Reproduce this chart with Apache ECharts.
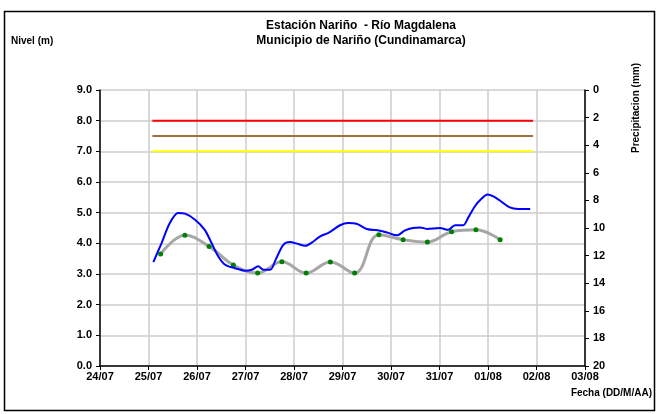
<!DOCTYPE html>
<html>
<head>
<meta charset="utf-8">
<script src="https://cdn.jsdelivr.net/npm/echarts@6/dist/echarts.min.js"></script>
<style>html,body{margin:0;padding:0;background:#fff}#c{width:658px;height:414px}</style>
</head>
<body>
<div id="c"></div>
<script>
// X axis: days since 24/07 (0 = 24/07 00:00)
const dateLabels = ['24/07','25/07','26/07','27/07','28/07','29/07','30/07','31/07','01/08','02/08','03/08'];
const levelTicks = [0,1,2,3,4,5,6,7,8,9];
const precipTicks = [0,2,4,6,8,10,12,14,16,18,20];

// Observed level (blue line)
const blueDays = [1.10,1.27,1.44,1.61,1.75,1.96,2.16,2.30,2.44,2.58,2.78,2.99,3.13,3.26,3.37,3.51,3.62,3.78,3.92,4.06,4.23,4.40,4.54,4.71,4.95,5.12,5.29,5.50,5.77,5.94,6.12,6.29,6.45,6.60,6.74,7.01,7.18,7.32,7.49,7.59,7.73,7.87,7.99,8.11,8.25,8.45,8.62,8.87];
const blueLevels = [3.39,4.01,4.66,4.99,4.97,4.77,4.44,4.01,3.57,3.30,3.19,3.11,3.14,3.25,3.14,3.14,3.46,3.95,4.04,3.99,3.92,4.06,4.23,4.34,4.59,4.66,4.64,4.47,4.41,4.34,4.26,4.42,4.50,4.52,4.47,4.50,4.44,4.59,4.59,4.83,5.21,5.46,5.59,5.53,5.39,5.17,5.12,5.12];

// Reading points (gray line with green markers)
const grayDays = [1.25,1.75,2.25,2.75,3.25,3.75,4.25,4.75,5.25,5.75,6.25,6.75,7.25,7.75,8.25];
const grayLevels = [3.65,4.26,3.90,3.29,3.03,3.40,3.03,3.39,3.03,4.28,4.12,4.04,4.38,4.44,4.12];

// Alert thresholds
const thresholdLevels = [8.0, 7.5, 7.0];
const thresholdNames = ['Alerta roja','Alerta naranja','Alerta amarilla'];
const thresholdStart = 1.08;
const thresholdEnd = 8.93;
const thresholdColors = ['#ff0000','#a5703f','#ffff00'];

// Precipitation (no bars shown)
const precipDays = [];
const precipValues = [];

const font = 'Liberation Sans, Arial, sans-serif';
const chart = echarts.init(document.getElementById('c'));

const series = [];
thresholdLevels.forEach((v,i)=>{
  series.push({
    name: thresholdNames[i], type:'line', xAxisIndex:0, yAxisIndex:0,
    data:[[thresholdStart,v],[thresholdEnd,v]], symbol:'none',
    lineStyle:{color:thresholdColors[i], width:2}, silent:true, z:3
  });
});
series.push({
  name:'Lectura', type:'line', yAxisIndex:0,
  data: grayDays.map((d,i)=>[d,grayLevels[i]]),
  smooth:0.4, symbol:'circle', symbolSize:5,
  itemStyle:{color:'#008000', borderWidth:0},
  lineStyle:{color:'#a6a6a6', width:3}, z:4
});
series.push({
  name:'Nivel', type:'line', yAxisIndex:0,
  data: blueDays.map((d,i)=>[d,blueLevels[i]]),
  smooth:0.3, symbol:'none',
  lineStyle:{color:'#0000ff', width:2}, z:5
});
series.push({
  name:'Precipitacion', type:'bar', yAxisIndex:1,
  data: precipDays.map((d,i)=>[d,precipValues[i]]),
  itemStyle:{color:'#00a0ff'}
});

chart.setOption({
  animation:false,
  backgroundColor:'#fff',
  textStyle:{fontFamily:font},
  grid:{left:100, right:73, top:90, bottom:48, containLabel:false},
  xAxis:{
    type:'value', min:0, max:10, interval:1,
    axisLine:{lineStyle:{color:'#000', width:1.5}},
    axisTick:{show:true, length:4, lineStyle:{color:'#000'}},
    axisLabel:{color:'#000', fontWeight:'bold', fontSize:11, fontFamily:font, margin:5,
      formatter:v=>dateLabels[Math.round(v)] || ''},
    splitLine:{show:true, lineStyle:{color:'#cccccc', width:1.5}}
  },
  yAxis:[
    {
      type:'value', min:0, max:9, interval:1, position:'left',
      axisLine:{show:true, lineStyle:{color:'#000', width:1.5}},
      axisTick:{show:true, length:4, lineStyle:{color:'#000'}},
      axisLabel:{color:'#000', fontWeight:'bold', fontSize:11, fontFamily:font, margin:8,
        formatter:v=>levelTicks.includes(v) ? v.toFixed(1) : ''},
      splitLine:{show:true, lineStyle:{color:'#cccccc', width:1.5}}
    },
    {
      type:'value', min:0, max:20, interval:2, inverse:true, position:'right',
      axisLine:{show:true, lineStyle:{color:'#000', width:1.5}},
      axisTick:{show:true, length:4, lineStyle:{color:'#000'}},
      axisLabel:{color:'#000', fontWeight:'bold', fontSize:11, fontFamily:font, margin:8,
        formatter:v=>precipTicks.includes(v) ? String(v) : ''},
      splitLine:{show:false}
    }
  ],
  series: series,
  graphic:[
    {type:'rect', shape:{x:4.5, y:11.5, width:650, height:399}, style:{fill:null, stroke:'#000', lineWidth:1.5}, silent:true},
    {type:'text', x:361, y:20, style:{text:'Estación Nariño  - Río Magdalena', font:'bold 12px '+font, fill:'#000', textAlign:'center'}},
    {type:'text', x:361, y:35, style:{text:'Municipio de Nariño (Cundinamarca)', font:'bold 12px '+font, fill:'#000', textAlign:'center'}},
    {type:'text', x:11, y:36, style:{text:'Nivel (m)', font:'bold 10px '+font, fill:'#000'}},
    {type:'text', x:652, y:388, style:{text:'Fecha (DD/M/AA)', font:'bold 10px '+font, fill:'#000', textAlign:'right'}},
    {type:'text', x:636, y:108, rotation:Math.PI/2, style:{text:'Precipitacion (mm)', font:'bold 10px '+font, fill:'#000', textAlign:'center', textVerticalAlign:'middle'}}
  ]
});
</script>
</body>
</html>
